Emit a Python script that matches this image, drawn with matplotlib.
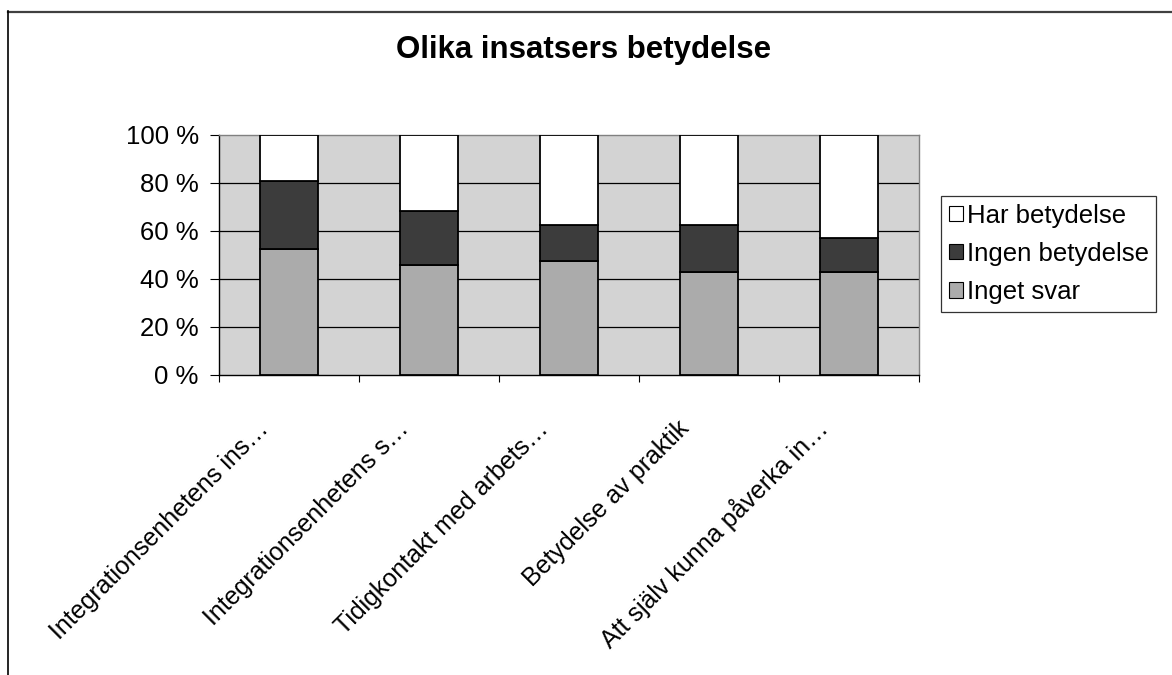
import matplotlib
matplotlib.use("Agg")
import matplotlib.pyplot as plt
from matplotlib.lines import Line2D
from matplotlib.patches import Patch
import numpy as np

plt.rcParams['font.family'] = ['Liberation Sans', 'DejaVu Sans']

title = "Olika insatsers betydelse"
categories = ["Integrationsenhetens ins…", "Integrationsenhetens s…", "Tidigkontakt med arbets…",
              "Betydelse av praktik", "Att själv kunna påverka in…"]
inget_svar = [52.5, 45.7, 47.4, 42.9, 42.9]
ingen_betydelse = [28.2, 22.8, 15.0, 19.5, 14.2]
har_betydelse = [19.3, 31.5, 37.6, 37.6, 42.9]
series_names = ["Inget svar", "Ingen betydelse", "Har betydelse"]
colors = ["#ABABAB", "#3C3C3C", "#FFFFFF"]
yticks = [0, 20, 40, 60, 80, 100]

W, H = 1172, 675
fig = plt.figure(figsize=(W / 100, H / 100), dpi=100)

# chart frame
fig.add_artist(Line2D([8 / W, 1], [1 - 11.5 / H, 1 - 11.5 / H], transform=fig.transFigure,
                      color="#404040", lw=1.6))
fig.add_artist(Line2D([8 / W, 8 / W], [1 - 11 / H, 0], transform=fig.transFigure,
                      color="black", lw=1.2))

ax = fig.add_axes([219 / W, (H - 375) / H, 700 / W, 240 / H])
ax.set_facecolor("#D3D3D3")
x = np.arange(len(categories))
bottom = np.zeros(len(categories))
handles = []
for vals, name, c in zip([inget_svar, ingen_betydelse, har_betydelse], series_names, colors):
    ax.bar(x, vals, bottom=bottom, width=0.41, color=c, edgecolor="black", linewidth=1.3, zorder=3)
    bottom += np.array(vals)
    handles.append(Patch(facecolor=c, edgecolor="black", linewidth=0.8, label=name))

ax.set_xlim(-0.5, len(categories) - 0.5)
ax.set_ylim(0, 100)
ax.set_yticks(yticks)
ax.set_yticklabels([f"{v} %" for v in yticks], fontsize=18.5)
ax.tick_params(axis='y', direction='out', length=6.5, width=0.8, pad=8)
ax.set_xticks(np.arange(-0.5, len(categories), 1.0))
ax.set_xticklabels([])
ax.tick_params(axis='x', direction='out', length=5, width=0.8)
for yv in yticks[1:-1]:
    ax.axhline(yv, color="black", lw=0.9, zorder=1)
ax.spines['left'].set_color('black')
ax.spines['bottom'].set_color('black')
ax.spines['top'].set_color('#808080')
ax.spines['right'].set_color('#808080')
for s in ax.spines.values():
    s.set_linewidth(1.0)

for i, lab in enumerate(categories):
    ax.annotate(lab, xy=(i, 0), xycoords='data', xytext=(-19, -55), textcoords='offset pixels',
                rotation=45, ha='right', va='baseline', rotation_mode='anchor', fontsize=18)

fig.text(584 / W, 1 - 58 / H, title, ha='center', va='baseline', fontsize=22.5, fontweight='bold')

leg = fig.legend(handles[::-1], [h.get_label() for h in handles[::-1]],
                 loc='upper left', bbox_to_anchor=(941 / W, 1 - 196 / H), bbox_transform=fig.transFigure,
                 fontsize=18.5, frameon=True, fancybox=False, shadow=False, borderaxespad=0,
                 handlelength=0.55, handleheight=0.55, handletextpad=0.15, labelspacing=0.55,
                 borderpad=0.3)
leg.get_frame().set_edgecolor('black')
leg.get_frame().set_linewidth(0.9)

fig.savefig("out.png", dpi=100)
